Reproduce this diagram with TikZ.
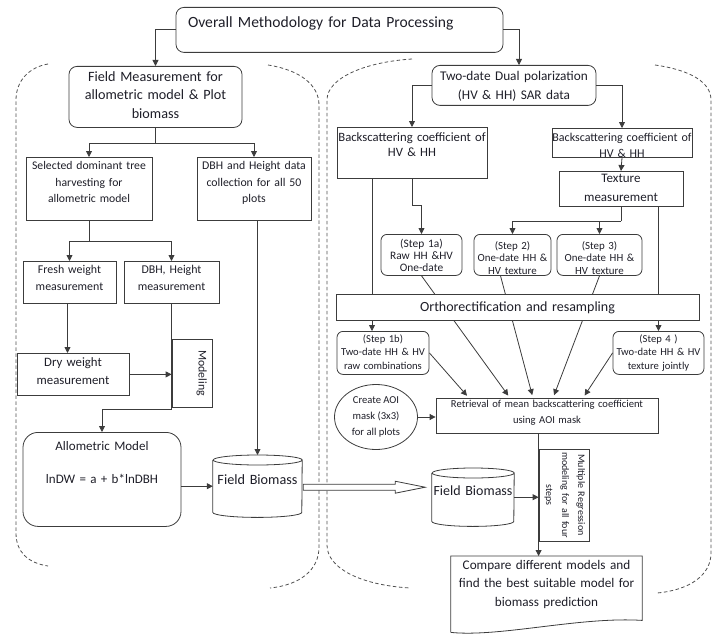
\documentclass[tikz,border=0pt]{standalone}
\usepackage{fontspec}
\setmainfont{Carlito}
\usetikzlibrary{arrows.meta,shapes.geometric,calc}
\definecolor{lc}{HTML}{3C3C3C}
\definecolor{tc}{HTML}{1E1E28}
\definecolor{dc}{HTML}{505050}
\newcommand\fz[2]{\fontsize{#1}{#2}\selectfont}
\begin{document}
\begin{tikzpicture}[x=1pt,y=-1pt,
  bx/.style={draw=lc, line width=0.8pt, inner sep=0pt, align=center, anchor=north, text=tc},
  rbx/.style={bx, rounded corners=8pt},
  tx/.style={inner sep=0pt, align=center, anchor=north, text=tc},
  ln/.style={draw=lc, line width=0.8pt},
  arr/.style={draw=lc, line width=0.8pt, -{Triangle[length=6pt,width=6pt]}},
  dsh/.style={draw=dc, line width=0.8pt, dash pattern=on 3.5pt off 2.5pt}]
\useasboundingbox (0,0) rectangle (718,634);

% dashed containers
\draw[dsh] (48,64) .. controls (30,67) and (16,80) .. (16,100) -- (16,533) .. controls (16,552) and (28,563) .. (48,566);
\draw[dsh] (268,65) .. controls (300,70) and (319,85) .. (319,105) -- (319,547) .. controls (319,570) and (300,585) .. (270,588);
\draw[dsh] (412,59) .. controls (365,62) and (327,78) .. (327,100) -- (327,545) .. controls (327,568) and (360,585) .. (410,588);
\draw[dsh] (655,65) .. controls (690,70) and (711,82) .. (711,100) -- (711,553) .. controls (711,575) and (690,590) .. (657,593);

% left column
\node[rbx, text width=327pt, align=left, text height=20pt, text depth=25pt, font=\fz{15.6}{18}] (title) at (339.5,7) {\hspace*{12pt}Overall Methodology for Data Processing};
\node[rbx, text width=173pt, text height=15pt, text depth=46pt, font=\fz{14.2}{18.5}] (field) at (155.5,66) {Field Measurement for\\allometric model \& Plot\\biomass};
\node[bx, text width=126pt, text height=12.5pt, text depth=50.5pt, font=\fz{11.7}{16.5}] (sel) at (89,157) {Selected dominant tree\\harvesting for\\allometric model};
\node[bx, text width=114pt, text height=12.5pt, text depth=50.5pt, font=\fz{11.8}{16.5}] (dbhdata) at (254,157) {DBH and Height data\\collection for all 50\\plots};
\node[bx, text width=93pt, text height=12.5pt, text depth=29.5pt, font=\fz{11.9}{17}] (fresh) at (69.5,261) {Fresh weight\\measurement};
\node[bx, text width=95pt, text height=12.5pt, text depth=29.5pt, font=\fz{11.9}{17}] (dbhh) at (171.5,261) {DBH, Height\\measurement};
\node[bx, text width=112pt, text height=13pt, text depth=29pt, font=\fz{12.8}{18}] (dry) at (73,353) {Dry weight\\measurement};
\node[bx, anchor=center, rotate=-90, text width=68pt, text height=13.3pt, text depth=26.7pt, font=\fz{11.8}{13}] (mdl) at (192,373) {Modeling};
\node[bx, rounded corners=15pt, text width=158pt, text height=18pt, text depth=76pt, font=\fz{13}{18.5}] (allo) at (102,432) {Allometric Model\\[14.5pt]lnDW = a + b*lnDBH};
\node[tx, text width=89pt, text height=29pt, text depth=33pt, font=\fz{14.2}{16}] (fb1) at (257.5,455) {Field Biomass};
\draw[ln] ([yshift=-5pt]fb1.north west) -- ([yshift=5pt]fb1.south west) arc[start angle=180, end angle=360, x radius=44.5pt, y radius=5pt] -- ([yshift=-5pt]fb1.north east) arc[start angle=0, end angle=180, x radius=44.5pt, y radius=5pt] arc[start angle=180, end angle=360, x radius=44.5pt, y radius=5pt];

% right column
\node[rbx, text width=164pt, text height=15pt, text depth=25pt, font=\fz{13.3}{19}] (twodate) at (514,65) {Two-date Dual polarization\\(HV \& HH) SAR data};
\node[bx, text width=150pt, text height=14pt, text depth=37pt, font=\fz{12.7}{15}] (bs1) at (412,127) {\mbox{Backscattering coefficient of}\\HV \& HH};
\node[bx, text width=140pt, text height=13pt, text depth=16pt, font=\fz{12}{16}] (bs2) at (622,128) {\mbox{Backscattering coefficient of}\\HV \& HH};
\node[bx, text width=124pt, text height=11pt, text depth=24pt, font=\fz{13}{19}] (texture) at (621,171) {Texture\\measurement};
\node[rbx, rounded corners=6pt, text width=81pt, text height=13pt, text depth=28pt, font=\fz{11.4}{12}] (s1a) at (421.5,234) {(Step 1a)\\Raw HH \&HV\\One-date};
\node[rbx, rounded corners=6pt, text width=77pt, text height=15pt, text depth=26pt, font=\fz{10.9}{12.5}] (s2) at (512.5,234) {(Step 2)\\One-date HH \&\\HV texture};
\node[rbx, rounded corners=6pt, text width=85pt, text height=15pt, text depth=26pt, font=\fz{10.9}{12.5}] (s3) at (599.5,234) {(Step 3)\\One-date HH \&\\HV texture};
\node[rbx, rounded corners=6pt, text width=92pt, text height=11pt, text depth=32pt, font=\fz{10.6}{13.5}] (s1b) at (383,331) {(Step 1b)\\Two-date HH \& HV\\raw combinations};
\node[rbx, rounded corners=6pt, text width=91pt, text height=11pt, text depth=32pt, font=\fz{10.6}{13.5}] (s4) at (658.5,331) {(Step 4 )\\Two-date HH \& HV\\texture jointly};
\node[bx, text width=222pt, text height=9pt, text depth=26pt, font=\fz{10.6}{16}] (retr) at (547,398) {Retrieval of mean backscattering coefficient\\using AOI mask};
\node[draw=lc, line width=0.8pt, ellipse, inner sep=0pt, minimum width=83pt, minimum height=65pt, align=center, text=tc, font=\fz{10.6}{16}] (aoi) at (376,417) {Create AOI\\mask (3x3)\\for all plots};
\node[tx, text width=82pt, text height=27pt, text depth=31pt, font=\fz{14}{16}] (fb2) at (473,468) {Field Biomass};
\draw[ln] ([yshift=-5pt]fb2.north west) -- ([yshift=5pt]fb2.south west) arc[start angle=180, end angle=360, x radius=41pt, y radius=5pt] -- ([yshift=-5pt]fb2.north east) arc[start angle=0, end angle=180, x radius=41pt, y radius=5pt] arc[start angle=180, end angle=360, x radius=41pt, y radius=5pt];
\node[bx, anchor=center, rotate=-90, text width=92pt, text height=11pt, text depth=39pt, font=\fz{10}{16}] (mreg) at (564,495) {Multiple Regression\\modeling for all four\\steps};
\node[tx, text width=191pt, text height=13pt, text depth=51pt, font=\fz{13.2}{18.5}] (cmp) at (546.5,556) {Compare different models and\\find the best suitable model for\\biomass prediction};
\draw[ln] ([yshift=-12pt]cmp.south west) -- (cmp.north west) -- (cmp.north east) -- (cmp.south east) .. controls ([xshift=-62pt,yshift=4pt]cmp.south east) and ([xshift=49pt,yshift=-17pt]cmp.south west) .. ([yshift=-12pt]cmp.south west);

% connectors left
\draw[arr] (title.west) -| (field.north);
\draw[arr] (title.east) -| ([xshift=5pt]twodate.north);
\coordinate (j1) at (155.5,143);
\draw[ln] (field.south) -- (j1);
\draw[arr] (j1) -| (sel.north);
\draw[arr] (j1) -| (dbhdata.north);
\coordinate (j2) at (89,241);
\draw[ln] (sel.south) -- (j2);
\draw[arr] (j2) -| (fresh.north);
\draw[arr] (j2) -| (dbhh.north);
\draw[arr] ([xshift=-2pt]fresh.south) -- ([xshift=-2pt]fresh.south |- dry.north);
\draw[arr] (dry.east) -- (dry.east -| mdl.south);
\coordinate (j3) at (171.5,409);
\draw[ln] (dbhh.south) -- (j3);
\draw[arr] (j3) -| (allo.north);
\draw[arr] (dbhdata.south -| fb1.north) -- (fb1.north);
\draw[arr] (allo.east |- fb1.west) -- (fb1.west);
\draw[ln, fill=white, line join=miter] ([shift={(1,-2)}]fb1.east) -- ++(92,0) -- ++(0,-3) -- ++(30,6) -- ++(-30,6) -- ++(0,-3) -- ++(-92,0) -- cycle;

% connectors right
\draw[arr] (twodate.west) -| (bs1.north);
\draw[arr] (twodate.east) -| (bs2.north);
\draw[arr] (bs2.south) -- (texture.north);
\coordinate (j4) at (621,221);
\draw[ln] (texture.south) -- (j4);
\draw[arr] (j4) -| (s2.north);
\draw[arr] (j4) -| (s3.north);
\draw[arr] (bs1.south) -- ++(0,27) -| (s1a.north);
\draw[arr] ([xshift=-40pt]bs1.south) -- ([xshift=-40pt]bs1.south |- s1b.north);
\draw[arr] (texture.south -| s4.north) -- (s4.north);
\draw[arr, shorten >=3pt] (s1a.south) -- ([xshift=-37pt]retr.north);
\draw[arr, shorten >=3pt] ([xshift=-12pt]s2.south) -- ([xshift=-14pt]retr.north);
\draw[arr, shorten >=3pt] (s3.south) -- ([xshift=6pt]retr.north);
\draw[arr, shorten >=3pt] (s1b.east) -- ([xshift=-78pt]retr.north);
\draw[arr, shorten >=3pt] (s4.west) -- ([xshift=36pt]retr.north);
\draw[arr] (aoi.east) -- (aoi.east -| retr.west);
\draw[arr] (fb2.east) -- (fb2.east -| mreg.south);
\draw[arr] (retr.south -| mreg.south) -- (cmp.north -| mreg.south);

\node[bx, fill=white, text width=363pt, text height=17pt, text depth=9pt, font=\fz{14}{16}] (ortho) at (517.5,294) {Orthorectification and resampling};
\end{tikzpicture}
\end{document}
